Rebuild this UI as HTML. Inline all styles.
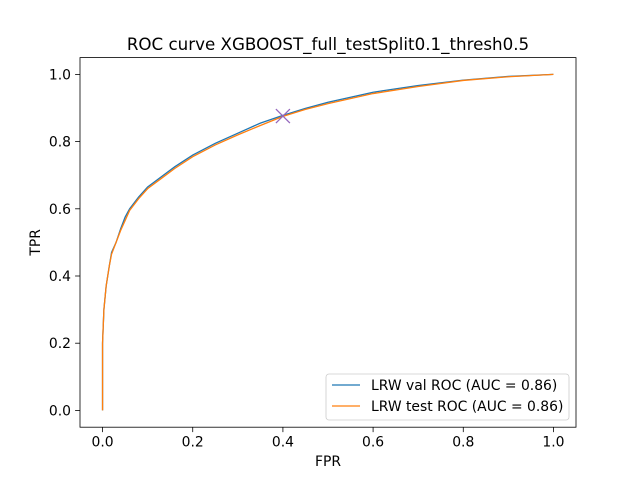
<!DOCTYPE html>
<html><head><meta charset="utf-8"><style>
body{margin:0;background:#fff}
svg{display:block;font-family:"DejaVu Sans","Liberation Sans",sans-serif}
</style></head><body>
<svg id="chart" width="640" height="480" xmlns="http://www.w3.org/2000/svg">
<rect width="640" height="480" fill="#fff"/>
<g id="plot"></g>
</svg>
<script>
const xTicks=[0,0.2,0.4,0.6,0.8,1.0];
const yTicks=[0,0.2,0.4,0.6,0.8,1.0];
const valFpr=[0,0,0.003,0.008,0.015,0.02,0.03,0.04,0.05,0.06,0.08,0.1,0.13,0.16,0.2,0.25,0.3,0.35,0.4,0.45,0.5,0.6,0.7,0.8,0.9,1];
const valTpr=[0,0.2,0.3,0.37,0.43,0.47,0.5,0.54,0.575,0.6,0.635,0.665,0.695,0.725,0.76,0.795,0.825,0.855,0.878,0.899,0.917,0.947,0.967,0.983,0.994,1];
const testFpr=[0,0,0.003,0.008,0.015,0.02,0.03,0.04,0.05,0.06,0.08,0.1,0.13,0.16,0.2,0.25,0.3,0.35,0.4,0.45,0.5,0.6,0.7,0.8,0.9,1];
const testTpr=[0,0.2,0.3,0.37,0.43,0.465,0.5,0.535,0.565,0.595,0.63,0.66,0.69,0.72,0.755,0.79,0.82,0.848,0.875,0.896,0.913,0.943,0.964,0.982,0.993,1];
const opPoint=[0.4,0.876];
const L=80,R=576,T=57.6,B=427.2;
const sx=v=>L+(v+0.05)/1.1*(R-L);
const sy=v=>B-(v+0.05)/1.1*(B-T);
const NS="http://www.w3.org/2000/svg";
const g=document.getElementById('plot');
function mk(tag,attrs,parent){const e=document.createElementNS(NS,tag);for(const k in attrs)e.setAttribute(k,attrs[k]);(parent||g).appendChild(e);return e;}
function txt(s,attrs){const e=mk('text',attrs);e.textContent=s;return e;}
xTicks.forEach(v=>{
 const l=mk('line',{x1:sx(v),x2:sx(v),y1:B,y2:B+4.9,stroke:'#000','stroke-width':0.8});
 
 
 const t=txt(v.toFixed(1),{x:sx(v),y:B+19.5,'font-size':13.9,'text-anchor':'middle'});
 
 
});
yTicks.forEach(v=>{
 const l=mk('line',{x1:L-4.9,x2:L,y1:sy(v),y2:sy(v),stroke:'#000','stroke-width':0.8});
 
 
 const t=txt(v.toFixed(1),{x:L-9,y:sy(v)+5,'font-size':13.9,'text-anchor':'end'});
 
 
});
function line(xs,ys,color,name){
 const p=mk('polyline',{points:xs.map((x,i)=>sx(x)+','+sy(ys[i])).join(' '),fill:'none',stroke:color,'stroke-width':1.3});
 
 
}
line(valFpr,valTpr,'#1f77b4','val-roc-line');
line(testFpr,testTpr,'#ff7f0e','test-roc-line');
const mx=sx(opPoint[0]),my=sy(opPoint[1]);
const m=mk('path',{d:`M${mx-7},${my-7}L${mx+7},${my+7}M${mx-7},${my+7}L${mx+7},${my-7}`,stroke:'#9467bd','stroke-width':1.3});


const frame=mk('rect',{x:L,y:T,width:R-L,height:B-T,fill:'none',stroke:'#000','stroke-width':0.8});


const title=txt('ROC curve XGBOOST_full_testSplit0.1_thresh0.5',{x:(L+R)/2,y:50,'font-size':16.7,'text-anchor':'middle'});


const xl=txt('FPR',{x:(L+R)/2,y:466,'font-size':13.9,'text-anchor':'middle'});


const yl=txt('TPR',{x:0,y:0,'font-size':13.9,'text-anchor':'middle',transform:`translate(40,${(T+B)/2}) rotate(-90)`});


const lg=mk('rect',{x:326,y:374,width:243,height:46,rx:3,fill:'#fff','fill-opacity':0.8,stroke:'#ccc','stroke-width':0.8});


[['LRW val ROC (AUC = 0.86)','#1f77b4',385],['LRW test ROC (AUC = 0.86)','#ff7f0e',406]].forEach(([s,c,y],i)=>{
 const l=mk('line',{x1:332,x2:360,y1:y,y2:y,stroke:c,'stroke-width':1.3});
 
 
 const t=txt(s,{x:371,y:y+5,'font-size':13.9});
 
 
});
</script>
</body></html>
